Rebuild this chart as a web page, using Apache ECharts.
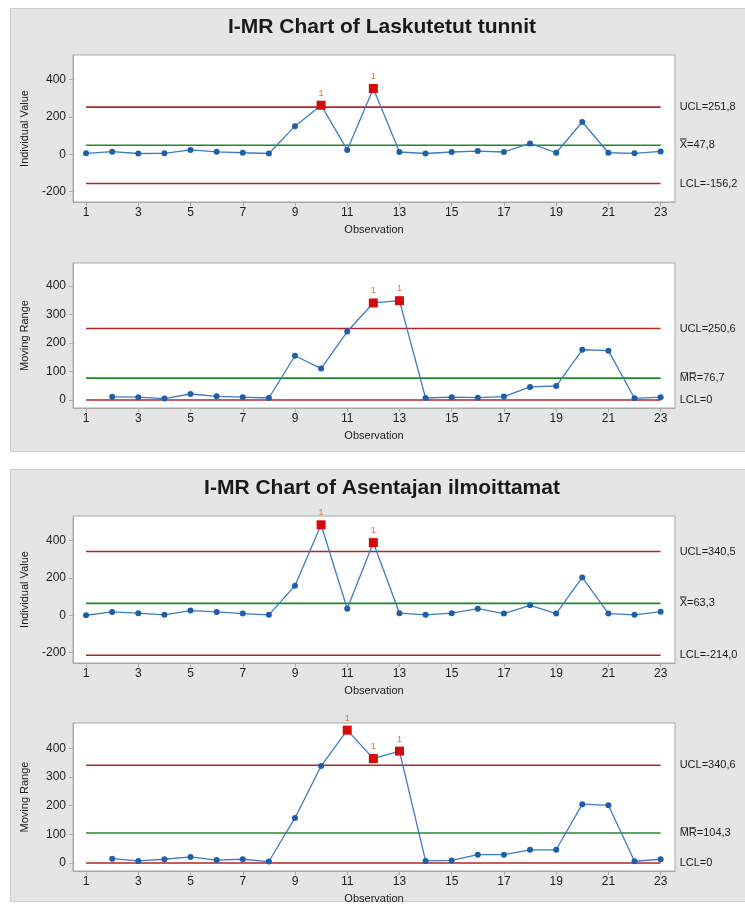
<!DOCTYPE html>
<html><head><meta charset="utf-8">
<script src="https://cdn.jsdelivr.net/npm/echarts@6/dist/echarts.min.js"></script>
<style>html,body{margin:0;padding:0;background:#fff}#c{width:745px;height:910px}</style>
</head><body><div id="c"></div>
<script>
// ---- data ----
const observations = [1,2,3,4,5,6,7,8,9,10,11,12,13,14,15,16,17,18,19,20,21,22,23];
const xTickLabels = [1,3,5,7,9,11,13,15,17,19,21,23];
const ivTickLabels = [-200,0,200,400];
const mrTickLabels = [0,100,200,300,400];

const titles = ["I-MR Chart of Laskutetut tunnit", "I-MR Chart of Asentajan ilmoittamat"];

const ivLaskutetut = [5,14,4,5,23,13,8,4,150,262,23,351,12,4,12,17,12,58,8,172,8,5,15];
const mrLaskutetut = [null,11,10,5,21,13,10,7,155,110,240,340,348,7,10,8,12,46,49,176,173,6,10];
const ivAsentajan = [0,18,11,2,25,18,9,2,158,483,35,388,11,2,11,35,9,53,9,202,9,2,19];
const mrAsentajan = [null,15,7,13,21,10,13,5,157,338,463,364,390,7,9,29,29,46,46,205,201,6,13];

const flagsIvLaskutetut = [10,12];
const flagsMrLaskutetut = [12,13];
const flagsIvAsentajan = [10,12];
const flagsMrAsentajan = [11,12,13];

const limitsIvLaskutetut = [251.8, 47.8, -156.2];
const limitsMrLaskutetut = [250.6, 76.7, 0];
const limitsIvAsentajan = [340.5, 63.3, -214.0];
const limitsMrAsentajan = [340.6, 104.3, 0];

const limitTextIvLaskutetut = ["UCL=251,8", "X\u033F=47,8", "LCL=-156,2"];
const limitTextMrLaskutetut = ["UCL=250,6", "M\u0305R\u0305=76,7", "LCL=0"];
const limitTextIvAsentajan = ["UCL=340,5", "X\u033F=63,3", "LCL=-214,0"];
const limitTextMrAsentajan = ["UCL=340,6", "M\u0305R\u0305=104,3", "LCL=0"];

// ---- layout / style ----
const FONT = 'Liberation Sans, Arial, sans-serif';
const panels = [
  {values: ivLaskutetut, flags: flagsIvLaskutetut, limits: limitsIvLaskutetut, texts: limitTextIvLaskutetut, name: 'Individual Value', ticks: ivTickLabels, range: [-255, 530], top: 55, height: 147},
  {values: mrLaskutetut, flags: flagsMrLaskutetut, limits: limitsMrLaskutetut, texts: limitTextMrLaskutetut, name: 'Moving Range', ticks: mrTickLabels, range: [-28, 480], top: 263, height: 145},
  {values: ivAsentajan, flags: flagsIvAsentajan, limits: limitsIvAsentajan, texts: limitTextIvAsentajan, name: 'Individual Value', ticks: ivTickLabels, range: [-255, 530], top: 516, height: 147},
  {values: mrAsentajan, flags: flagsMrAsentajan, limits: limitsMrAsentajan, texts: limitTextMrAsentajan, name: 'Moving Range', ticks: mrTickLabels, range: [-28, 488], top: 723, height: 148}
];

const grids = [], xAxes = [], yAxes = [], series = [];
const limitColors = ['#b0262a', '#1f8a2a', '#b0262a'];
const textColor = '#1c1c1c';

panels.forEach((p, i) => {
  grids.push({left: 73, width: 602, top: p.top, height: p.height, show: true,
    backgroundColor: '#ffffff', borderColor: '#a8a8a8', borderWidth: 1});
  xAxes.push({type: 'value', gridIndex: i, min: 0.5, max: 23.55,
    name: 'Observation', nameLocation: 'middle', nameGap: 22,
    nameTextStyle: {fontFamily: FONT, fontSize: 11, color: textColor},
    axisLine: {onZero: false, lineStyle: {color: '#a8a8a8'}},
    axisTick: {show: true, length: 4, customValues: xTickLabels, lineStyle: {color: '#a8a8a8'}},
    axisLabel: {customValues: xTickLabels, margin: 5, fontFamily: FONT, fontSize: 12, color: textColor},
    splitLine: {show: false}});
  yAxes.push({type: 'value', gridIndex: i, min: p.range[0], max: p.range[1],
    name: p.name, nameLocation: 'middle', nameGap: 43, nameRotate: 90,
    nameTextStyle: {fontFamily: FONT, fontSize: 11, color: textColor},
    axisLine: {show: true, lineStyle: {color: '#a8a8a8'}},
    axisTick: {show: true, length: 4, customValues: p.ticks, lineStyle: {color: '#a8a8a8'}},
    axisLabel: {customValues: p.ticks, margin: 7, fontFamily: FONT, fontSize: 12, color: textColor},
    splitLine: {show: false}});

  // control lines
  p.limits.forEach((v, k) => {
    series.push({type: 'line', xAxisIndex: i, yAxisIndex: i, silent: true, z: 1,
      symbol: 'none', data: [[observations[0], v], [observations[observations.length - 1], v]],
      lineStyle: {color: limitColors[k], width: 1.6},
      endLabel: {show: true, formatter: p.texts[k], distance: 19,
        fontFamily: FONT, fontSize: 11, color: textColor}});
  });

  // data
  const data = [];
  observations.forEach((o, j) => {
    const v = p.values[j];
    if (v === null) return;
    if (p.flags.includes(o)) {
      data.push({value: [o, v], symbol: 'rect', symbolSize: 9,
        itemStyle: {color: '#d60a0a'},
        label: {show: true, position: 'top', distance: 3, formatter: '1',
          fontFamily: FONT, fontSize: 9, color: '#e0703a'}});
    } else {
      data.push({value: [o, v]});
    }
  });
  series.push({type: 'line', xAxisIndex: i, yAxisIndex: i, z: 3, data: data,
    symbol: 'circle', symbolSize: 6, showAllSymbol: true,
    itemStyle: {color: '#1f5fa8'},
    lineStyle: {color: '#3c7cc4', width: 1.3}});
});

const option = {
  animation: false,
  backgroundColor: '#ffffff',
  graphic: [
    {type: 'rect', z: -10, shape: {x: 10.5, y: 8.5, width: 740, height: 443}, style: {fill: '#e5e5e5', stroke: '#cdcdcd', lineWidth: 1}},
    {type: 'rect', z: -10, shape: {x: 10.5, y: 469.5, width: 740, height: 432}, style: {fill: '#e5e5e5', stroke: '#cdcdcd', lineWidth: 1}},
    {type: 'text', z: 10, x: 382, y: 27, style: {text: titles[0], textAlign: 'center', textVerticalAlign: 'middle', fontFamily: FONT, fontSize: 21, fontWeight: 'bold', fill: '#1a1a1a'}},
    {type: 'text', z: 10, x: 382, y: 488, style: {text: titles[1], textAlign: 'center', textVerticalAlign: 'middle', fontFamily: FONT, fontSize: 21, fontWeight: 'bold', fill: '#1a1a1a'}}
  ],
  grid: grids, xAxis: xAxes, yAxis: yAxes, series: series
};
const chart = echarts.init(document.getElementById('c'), null, {renderer: 'canvas'});
chart.setOption(option);
</script></body></html>
